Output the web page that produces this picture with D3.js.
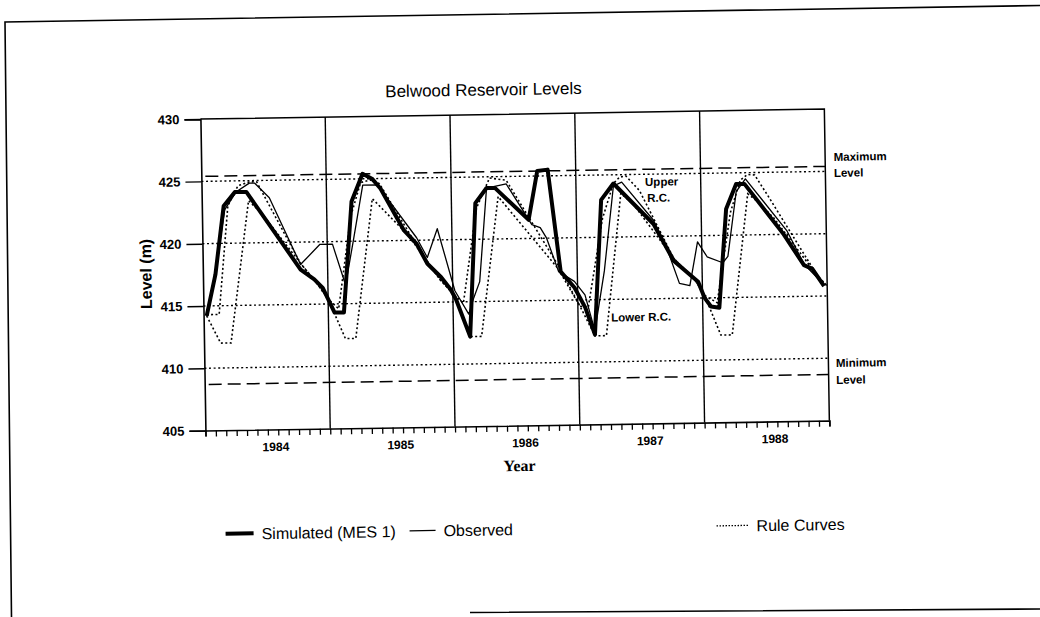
<!DOCTYPE html>
<html>
<head>
<meta charset="utf-8">
<script src="https://cdn.jsdelivr.net/npm/d3@7"></script>
<style>
  body { margin: 0; background: #fff; }
  text { fill: #000; }
</style>
</head>
<body>
<svg id="chart" width="1040" height="617"></svg>
<script>
// ---- data (time in months from January 1984, level in metres) ----
const years = [1984, 1985, 1986, 1987, 1988];
const yTicks = [405, 410, 415, 420, 425, 430];
const gridLevels = [410, 415, 420, 425];
const maxLevel = 425.4;
const minLevel = 408.7;

const simulated = [
  [0.3,414.2],[1.2,417.5],[2.1,423.0],[3.2,424.1],[4.3,424.1],[9.4,417.8],[10.7,417.0],[11.5,416.3],
  [12.6,414.3],[13.5,414.3],[14.4,423.2],[15.5,425.4],[16.4,425.0],[17.2,424.2],[19.4,420.8],[20.6,419.7],
  [21.6,418.1],[22.9,417.0],[23.8,416.0],[24.3,415.2],[25.6,412.2],[26.3,422.9],[27.4,424.1],[28.2,424.1],
  [31.4,421.5],[32.3,425.4],[33.3,425.5],[34.4,417.3],[35.7,416.0],[36.7,414.4],[37.6,412.2],[38.4,423.0],
  [39.6,424.3],[43.4,421.0],[45.3,418.0],[47.6,416.3],[48.2,415.0],[48.8,414.3],[49.6,414.2],[50.4,422.1],
  [51.4,424.1],[52.2,424.1],[55.9,420.0],[57.8,417.5],[58.6,417.2],[59.7,415.8]
];

const observed = [
  [0.3,414.2],[1.2,417.8],[2.2,422.7],[3.3,424.1],[4.6,424.8],[5.1,424.8],[6.5,423.6],[9.4,418.2],
  [11.3,419.8],[12.5,419.8],[13.7,416.5],[14.5,420.0],[15.5,424.5],[16.9,424.5],[20.6,420.2],[21.6,418.6],
  [22.6,420.9],[24.2,415.9],[25.5,414.0],[26.0,415.3],[26.6,416.6],[27.4,424.1],[29.3,424.4],[31.7,421.1],
  [32.5,420.85],[33.1,420.0],[34.2,417.3],[35.7,416.5],[36.7,415.4],[37.6,412.5],[38.6,417.3],[39.6,424.1],
  [40.4,424.4],[43.4,421.3],[44.7,418.9],[45.8,416.2],[46.8,416.0],[47.6,419.5],[48.5,418.3],[50.0,417.8],
  [50.5,418.3],[51.4,423.5],[52.3,424.5],[56.2,420.3],[57.8,417.6],[59.7,415.9]
];

const upperRule = [
  [0.3,414.3],[1.5,414.3],[2.5,423.0],[3.5,424.6],[4.6,424.9],[5.3,424.9],[9.4,418.3],[11.0,416.6],[12.0,415.4],
  [13.0,414.6],[14.3,422.0],[15.3,424.7],[16.2,424.9],[17.1,424.6],[21.0,419.0],[22.8,416.8],[24.2,415.5],
  [25.0,414.9],[26.4,422.5],[27.7,424.9],[29.3,424.7],[34.1,417.9],[36.2,414.5],
  [37.0,414.4],[38.5,421.5],[39.6,424.3],[40.2,424.8],[40.8,424.9],[42.1,423.7],[45.3,418.2],[47.2,416.6],[48.2,415.2],
  [49.4,414.6],[50.8,421.8],[51.8,424.4],[52.5,424.85],[53.2,424.8],[54.6,422.9],[59.1,416.6],[60.0,415.8]
];

const lowerRule = [
  [0.3,414.2],[1.6,412.0],[2.6,412.0],[4.5,423.4],[5.8,422.3],[9.4,418.3],[11.0,416.6],[12.0,415.4],
  [13.6,412.2],[14.6,412.2],[16.4,423.4],[19.7,420.5],[21.0,419.0],[22.8,416.8],[24.2,415.5],
  [25.6,412.2],[26.7,412.2],[28.5,423.4],[34.1,417.6],[36.2,414.5],
  [37.6,412.1],[38.7,412.1],[40.3,423.5],[41.5,422.6],[45.3,418.2],[47.2,416.6],[48.2,415.2],
  [49.7,412.0],[50.8,412.0],[52.5,423.3],[53.4,422.7],[55.0,421.3],[59.1,416.6],[60.0,415.8]
];

// ---- layout ----
const plot = { left: 203.5, right: 827.5, top: 114, bottom: 425.5 };
const x = d3.scaleLinear().domain([0, 60]).range([plot.left, plot.right]);
const y = d3.scaleLinear().domain([405, 430]).range([plot.bottom, plot.top]);

const FONT = "'Liberation Sans', Arial, Helvetica, sans-serif";
const svg = d3.select("#chart");

// page frame edges (the printed sheet is slightly skewed)
svg.append("path")
  .attr("d", "M11.5,617.5L5,22L1040,5.5M470,612.5L1040,609")
  .attr("fill", "none").attr("stroke", "#000").attr("stroke-width", 1.6);

const page = svg.append("g").attr("transform", "rotate(-0.92 520 308)");

// title
page.append("text")
  .attr("x", 487).attr("y", 95)
  .attr("text-anchor", "middle")
  .style("font-family", FONT).style("font-size", "17px")
  .text("Belwood Reservoir Levels");

const defs = svg.append("defs");
defs.append("clipPath").attr("id", "plotClip")
  .append("rect")
  .attr("x", plot.left).attr("y", plot.top)
  .attr("width", plot.right - plot.left).attr("height", plot.bottom - plot.top);

// dotted grid lines
page.append("g").selectAll("line").data(gridLevels).join("line")
  .attr("x1", plot.left).attr("x2", plot.right)
  .attr("y1", d => y(d)).attr("y2", d => y(d))
  .attr("stroke", "#000").attr("stroke-width", 1.4).attr("stroke-dasharray", "2,2.6");

// maximum / minimum levels (dashed)
page.append("g").selectAll("line").data([maxLevel, minLevel]).join("line")
  .attr("x1", plot.left + 4).attr("x2", plot.right)
  .attr("y1", d => y(d)).attr("y2", d => y(d))
  .attr("stroke", "#000").attr("stroke-width", 1.5).attr("stroke-dasharray", "13,6");

// year separators
page.append("g").selectAll("line").data([12, 24, 36, 48]).join("line")
  .attr("x1", d => x(d)).attr("x2", d => x(d))
  .attr("y1", plot.top).attr("y2", plot.bottom)
  .attr("stroke", "#000").attr("stroke-width", 1.4);

// plot box top and right
page.append("path")
  .attr("d", `M${plot.left},${plot.top}H${plot.right}V${plot.bottom}`)
  .attr("fill", "none").attr("stroke", "#000").attr("stroke-width", 1.5);

// series
const line = d3.line().x(d => x(d[0])).y(d => y(d[1]));
const series = page.append("g").attr("clip-path", "url(#plotClip)");
series.append("path").datum(upperRule).attr("d", line)
  .attr("fill", "none").attr("stroke", "#000").attr("stroke-width", 1.6).attr("stroke-dasharray", "2,2.4");
series.append("path").datum(lowerRule).attr("d", line)
  .attr("fill", "none").attr("stroke", "#000").attr("stroke-width", 1.6).attr("stroke-dasharray", "2,2.4");
series.append("path").datum(observed).attr("d", line)
  .attr("fill", "none").attr("stroke", "#000").attr("stroke-width", 1.3).attr("stroke-linejoin", "round");
series.append("path").datum(simulated).attr("d", line)
  .attr("fill", "none").attr("stroke", "#000").attr("stroke-width", 4).attr("stroke-linejoin", "round");

// y axis
const yAxis = page.append("g").attr("transform", `translate(${plot.left},0)`)
  .call(d3.axisLeft(y).tickValues(yTicks).tickSize(16).tickPadding(5).tickFormat(d3.format("d")));
yAxis.select(".domain").attr("stroke-width", 1.6);
yAxis.selectAll(".tick line").attr("stroke-width", 1.4);
yAxis.selectAll("text").style("font-family", FONT).style("font-size", "13px").style("font-weight", "bold");

// x axis: monthly ticks
const xAxis = page.append("g").attr("transform", `translate(0,${plot.bottom})`)
  .call(d3.axisBottom(x).tickValues(d3.range(0, 61)).tickSize(6).tickFormat(""));
xAxis.select(".domain").attr("stroke-width", 1.6);
xAxis.selectAll(".tick line").attr("stroke-width", 1.3);

// year labels
page.append("g").selectAll("text").data(years).join("text")
  .attr("x", (d, i) => x(i * 12 + 6.75)).attr("y", 447)
  .attr("text-anchor", "middle")
  .style("font-family", FONT).style("font-size", "12px").style("font-weight", "bold")
  .text(d => d);

page.append("text").attr("x", 517).attr("y", 471).attr("text-anchor", "middle")
  .style("font-family", "'Liberation Serif', 'Times New Roman', serif")
  .style("font-size", "16px").style("font-weight", "bold").text("Year");

page.append("text")
  .attr("transform", `translate(152,268) rotate(-90)`)
  .attr("text-anchor", "middle")
  .style("font-family", FONT).style("font-size", "16px").style("font-weight", "bold")
  .text("Level (m)");

// annotations
const notes = [
  { t: "Maximum", x: 836, y: 166 },
  { t: "Level", x: 836, y: 182 },
  { t: "Minimum", x: 835, y: 372 },
  { t: "Level", x: 835, y: 389 },
  { t: "Upper", x: 647, y: 188 },
  { t: "R.C.", x: 649, y: 204 },
  { t: "Lower R.C.", x: 611, y: 323 }
];
page.append("g").selectAll("text").data(notes).join("text")
  .attr("x", d => d.x).attr("y", d => d.y)
  .style("font-family", FONT).style("font-size", "11.5px").style("font-weight", "bold")
  .text(d => d.t);

// legend
const leg = page.append("g").style("font-family", FONT).style("font-size", "16px");
const legItems = [
  { t: "Simulated (MES 1)", x0: 222, x1: 250, w: 4, dash: null },
  { t: "Observed", x0: 406, x1: 432, w: 1.3, dash: null },
  { t: "Rule Curves", x0: 713, x1: 745, w: 1.3, dash: "1.5,1.5" }
];
legItems.forEach(d => {
  leg.append("line").attr("x1", d.x0).attr("x2", d.x1).attr("y1", 529).attr("y2", 529)
    .attr("stroke", "#000").attr("stroke-width", d.w).attr("stroke-dasharray", d.dash);
  leg.append("text").attr("x", d.x1 + 8).attr("y", 535).text(d.t);
});
</script>
</body>
</html>
